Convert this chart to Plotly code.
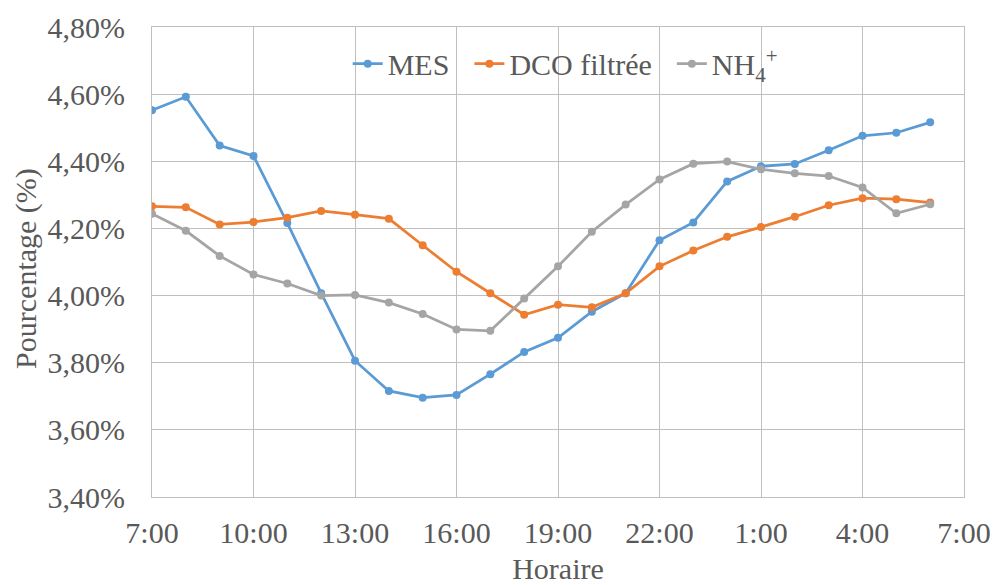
import plotly.graph_objects as go
from datetime import datetime, timedelta

hours = ["7:00", "8:00", "9:00", "10:00", "11:00", "12:00", "13:00", "14:00",
         "15:00", "16:00", "17:00", "18:00", "19:00", "20:00", "21:00", "22:00",
         "23:00", "0:00", "1:00", "2:00", "3:00", "4:00", "5:00", "6:00"]

mes = [4.552, 4.592, 4.447, 4.416, 4.216, 4.007, 3.806, 3.716, 3.696, 3.704,
       3.766, 3.832, 3.874, 3.952, 4.007, 4.165, 4.218, 4.340, 4.385, 4.392,
       4.433, 4.476, 4.485, 4.516]

dco = [4.266, 4.263, 4.212, 4.219, 4.232, 4.252, 4.241, 4.229, 4.150, 4.071,
       4.007, 3.943, 3.973, 3.965, 4.007, 4.087, 4.134, 4.175, 4.204, 4.235,
       4.269, 4.290, 4.287, 4.277]

nh4 = [4.244, 4.193, 4.118, 4.063, 4.036, 4.000, 4.002, 3.979, 3.945, 3.899,
       3.895, 3.991, 4.087, 4.190, 4.271, 4.346, 4.393, 4.399, 4.376, 4.364,
       4.356, 4.322, 4.245, 4.272]

series_names = ["MES", "DCO filtrée", "NH<sub>4</sub><sup>+</sup>"]
series_colors = ["#5B9BD5", "#ED7D31", "#A5A5A5"]
x_title = "Horaire"
y_title = "Pourcentage (%)"

base = datetime(2000, 1, 1)
xs = []
for h in hours:
    hh, mm = h.split(":")
    d = base + timedelta(hours=int(hh), minutes=int(mm))
    if int(hh) < 7:
        d += timedelta(days=1)
    xs.append(d)

FONT = "Times New Roman"
TXT = "#595959"
GRID = "#BFBFBF"
PAD = "\u00a0\u00a0"  # spacing between legend entries

fig = go.Figure()
for i, (name, vals, col) in enumerate(zip(series_names, [mes, dco, nh4], series_colors)):
    label = name + (PAD if i < len(series_names) - 1 else "")
    fig.add_trace(go.Scatter(
        x=xs, y=vals, name=label, mode="lines+markers",
        line=dict(color=col, width=2.75),
        marker=dict(color=col, size=8),
    ))

fig.update_layout(
    width=993, height=585,
    margin=dict(l=152, r=29, t=27, b=88, autoexpand=False),
    paper_bgcolor="white", plot_bgcolor="white",
    font=dict(family=FONT, color=TXT, size=30),
    separators=", ",
    showlegend=True,
    legend=dict(orientation="h", x=0.241, y=0.922, xanchor="left", yanchor="middle",
                bgcolor="rgba(0,0,0,0)", font=dict(size=30, family=FONT, color=TXT),
                itemwidth=30, tracegroupgap=0),
    annotations=[dict(
        text=y_title, textangle=-90, xref="paper", yref="paper",
        x=-0.156, y=0.486, xanchor="center", yanchor="middle", showarrow=False,
        font=dict(size=30, family=FONT, color=TXT),
    )],
)

fig.update_xaxes(
    type="date", automargin=False,
    range=[base + timedelta(hours=7), base + timedelta(days=1, hours=7)],
    tick0=base + timedelta(hours=7), dtick=3 * 3600 * 1000,
    tickformat="%-H:%M",
    showgrid=True, gridcolor=GRID, gridwidth=1,
    showline=True, linecolor=GRID, linewidth=1, mirror=True,
    ticks="", ticklabelstandoff=9,
    tickfont=dict(size=30, family=FONT, color=TXT),
    title=dict(text=x_title, font=dict(size=30, family=FONT, color=TXT), standoff=14),
    zeroline=False,
)

fig.update_yaxes(
    automargin=False,
    range=[3.40, 4.80], dtick=0.20, tick0=3.40,
    tickformat=".2f", ticksuffix="%",
    showgrid=True, gridcolor=GRID, gridwidth=1,
    showline=True, linecolor=GRID, linewidth=1, mirror=True,
    ticks="", ticklabelstandoff=20,
    tickfont=dict(size=30, family=FONT, color=TXT),
    zeroline=False,
)

fig.write_html("out.html", config={"displayModeBar": False},
               post_script="document.body.style.margin='0px';")
